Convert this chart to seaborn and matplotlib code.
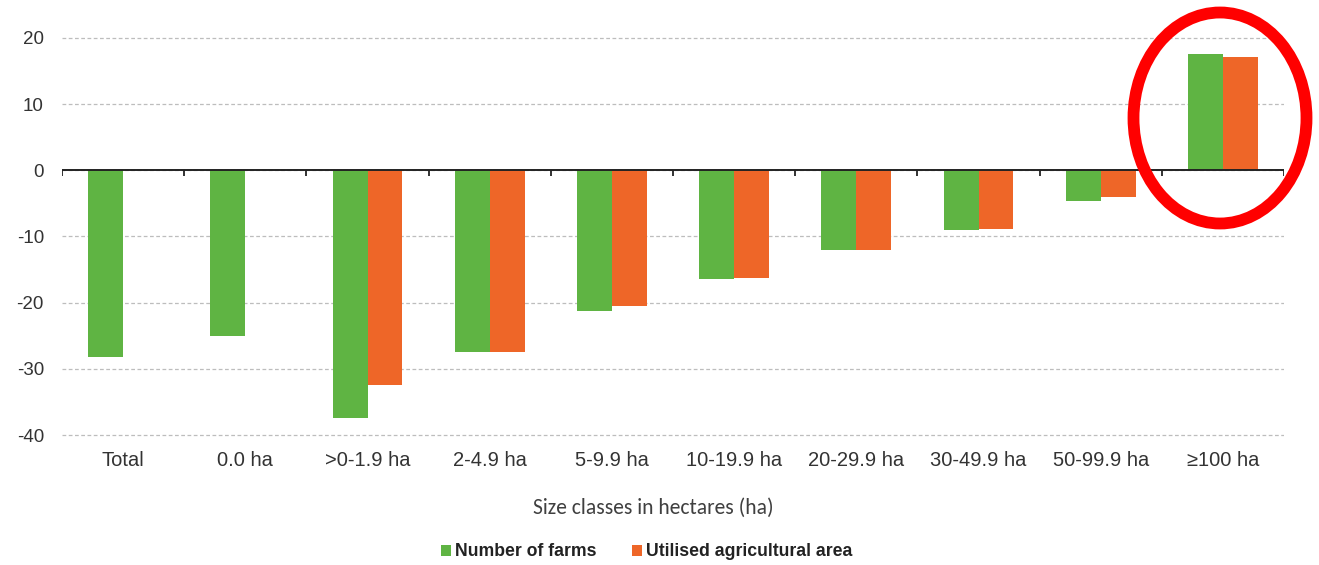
import matplotlib
matplotlib.use("Agg")
import matplotlib.pyplot as plt
from matplotlib.patches import Ellipse, Patch
import seaborn as sns
import pandas as pd
import numpy as np

# Change in number of farms and utilised agricultural area by size class (%)
size_classes = ["Total", "0.0 ha", ">0-1.9 ha", "2-4.9 ha", "5-9.9 ha",
                "10-19.9 ha", "20-29.9 ha", "30-49.9 ha", "50-99.9 ha", "\u2265100 ha"]
number_of_farms = [-28.2, -25.0, -37.5, -27.4, -21.2, -16.4, -12.0, -9.0, -4.7, 17.6]
utilised_area = [np.nan, np.nan, -32.5, -27.4, -20.5, -16.3, -12.0, -8.9, -4.1, 17.2]
series_names = ["Number of farms", "Utilised agricultural area"]
series_colors = ["#5fb443", "#ee6628"]

df = pd.DataFrame({
    "size_class": size_classes * 2,
    "value": number_of_farms + utilised_area,
    "series": [series_names[0]] * len(size_classes) + [series_names[1]] * len(size_classes),
})

sns.set_style("white")
plt.rcParams["font.family"] = ["Liberation Sans", "DejaVu Sans"]
plt.rcParams["axes.unicode_minus"] = False

W, H = 1319, 565
ppu = (435 - 38) / 60.0  # pixels per percentage point
ymin, ymax = -40.5, 20.5
top_px = 38 - (ymax - 20) * ppu
bot_px = 435 + (-40 - ymin) * ppu
fig = plt.figure(figsize=(W / 100, H / 100), dpi=100)
ax = fig.add_axes([62 / W, 1 - bot_px / H, (1284 - 62) / W, (bot_px - top_px) / H])

sns.barplot(data=df, x="size_class", y="value", hue="series",
            palette=series_colors, width=0.57, gap=0, ax=ax, linewidth=0,
            saturation=1, legend=False, order=size_classes, hue_order=series_names)

ax.set_ylim(ymin, ymax)
ax.set_xlim(-0.5, len(size_classes) - 0.5)
ax.set_yticks([20, 10, 0, -10, -20, -30, -40])
ax.yaxis.grid(True, color="#bdbdbd", linestyle=(0, (3, 2)), linewidth=0.9)
ax.set_axisbelow(True)
for s in ax.spines.values():
    s.set_visible(False)

# zero line with small category-boundary ticks
ax.axhline(0, color="#222222", linewidth=1.4, zorder=3)
bounds = np.arange(len(size_classes) + 1) - 0.5
ax.vlines(bounds, -0.9, 0, color="#222222", linewidth=1.3, zorder=3)

ax.tick_params(axis="both", length=0, colors="#333333")
ax.tick_params(axis="x", pad=9, labelsize=14.5)
ax.tick_params(axis="y", pad=13, labelsize=13.5)
ax.set_ylabel("")
ax.set_xlabel("Size classes in hectares (ha)", fontsize=15.5, color="#404040",
              labelpad=24, family=["Carlito", "Liberation Sans", "DejaVu Sans"])
ax.xaxis.set_label_coords((653 - 62) / (1284 - 62), 1 - (508 - top_px) / (bot_px - top_px))
ax.xaxis.label.set_va("center")

handles = [Patch(facecolor=c, edgecolor="none") for c in series_colors]
leg = fig.legend(handles, series_names, loc="center", bbox_to_anchor=(647 / W, 1 - 552 / H),
                 ncol=2, frameon=False, handlelength=0.55, handleheight=0.55,
                 handletextpad=0.25, columnspacing=2.0,
                 prop={"weight": "bold", "size": 12.7})
for t in leg.get_texts():
    t.set_color("#222222")

# highlight the largest size class
fig.add_artist(Ellipse((1220 / W, 1 - 118 / H), 173 / W, 211 / H,
                       transform=fig.transFigure, fill=False,
                       edgecolor="#ff0000", linewidth=8.5, zorder=10))

fig.savefig("out.png", dpi=100, facecolor="white")
